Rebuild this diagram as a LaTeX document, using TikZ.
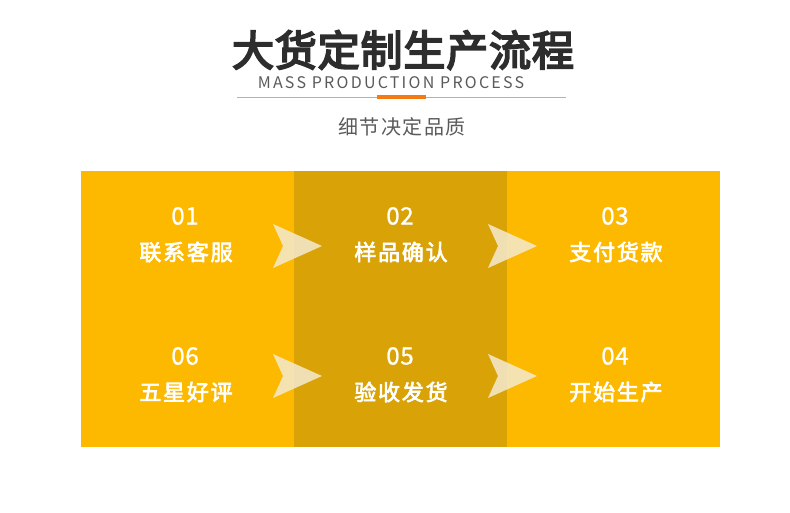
\documentclass[tikz,border=0pt]{standalone}
\usepackage{fontspec}
\setmainfont{Noto Sans CJK SC}
\newfontfamily\cjkheading{Noto Sans CJK SC}[FakeBold=4.5]
\newfontfamily\cjkmedium{Noto Sans CJK SC}[FakeBold=3]
\newfontfamily\cjkdigits{Noto Sans CJK SC}[FakeBold=1]
\usetikzlibrary{positioning}

\definecolor{panelyellow}{RGB}{253,185,0}
\definecolor{paneldark}{RGB}{217,163,7}
\definecolor{titlegray}{RGB}{45,45,45}
\definecolor{subgray}{RGB}{90,90,90}
\definecolor{lineorange}{RGB}{244,122,18}
\definecolor{chevroncream}{RGB}{244,234,208}

\begin{document}
\begin{tikzpicture}[x=1pt, y=-1pt, every node/.style={inner sep=0pt, align=center},
  stepnum/.style={text=white, font=\cjkdigits\fontsize{24}{24}\selectfont\addfontfeature{LetterSpace=3}},
  steplabel/.style={text=white, font=\cjkmedium\fontsize{22}{22}\selectfont\addfontfeature{LetterSpace=8}},
  chevron/.style={fill=chevroncream, fill opacity=0.85}]
\useasboundingbox (0,0) rectangle (790,512);

% Heading
\node (title) at (403,50) [text=titlegray, font=\cjkheading\fontsize{42}{42}\selectfont\addfontfeature{LetterSpace=2}] {大货定制生产流程};
\node (title-en) at (391,83) [text=subgray, font=\fontsize{16}{16}\selectfont\addfontfeature{LetterSpace=14}] {MASS PRODUCTION PROCESS};
\coordinate (rule-left) at (237,97);
\coordinate (rule-right) at (566,97);
\draw[lineorange!70, line width=0.7pt] (rule-left) -- (rule-right);
\draw[lineorange, line width=4pt] (377,97) -- (426,97);
\node (subtitle) at (402,127) [text=subgray, font=\fontsize{20}{20}\selectfont\addfontfeature{LetterSpace=8}] {细节决定品质};

% Panels
\fill[panelyellow] (81,171) rectangle (720,447);
\fill[paneldark] (294,171) rectangle (507,447);

% Top row
\node (num-01) at (185,216) [stepnum] {01};
\node (step-01) at (186,252) [steplabel] {联系客服};
\node (num-02) at (400,216) [stepnum] {02};
\node (step-02) at (401,252) [steplabel] {样品确认};
\node (num-03) at (615,216) [stepnum] {03};
\node (step-03) at (616,252) [steplabel] {支付货款};

% Bottom row
\node (num-06) at (185,356) [stepnum] {06};
\node (step-06) at (186,392) [steplabel] {五星好评};
\node (num-05) at (400,356) [stepnum] {05};
\node (step-05) at (401,392) [steplabel] {验收发货};
\node (num-04) at (615,356) [stepnum] {04};
\node (step-04) at (616,392) [steplabel] {开始生产};

% Chevrons
\foreach \tail in {(273,246),(488,246),(273,376),(488,376)}
  \fill[chevron] \tail ++(0,-22) -- ++(49,22) -- ++(-49,22) -- ++(10,-22) -- cycle;
\end{tikzpicture}
\end{document}
